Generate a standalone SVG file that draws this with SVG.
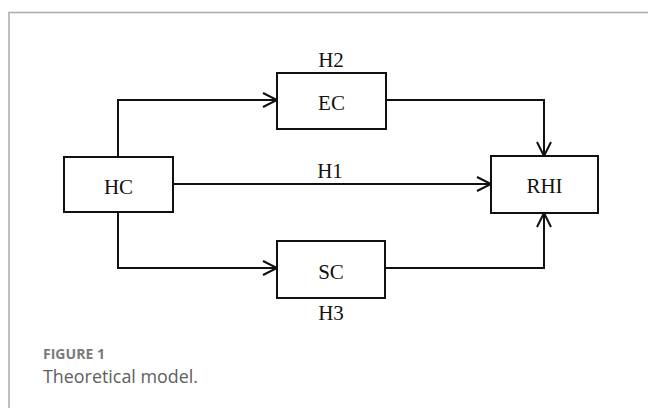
<svg xmlns="http://www.w3.org/2000/svg" width="648" height="408" viewBox="0 0 648 408">
  <defs>
    <marker id="arrow" markerUnits="userSpaceOnUse" markerWidth="20" markerHeight="20" refX="15" refY="8" orient="auto" viewBox="0 0 20 16">
      <path d="M1,1 L15,8 L1,15" fill="none" stroke="#111" stroke-width="2"/>
    </marker>
  </defs>
  <style>
    .box { fill: #fff; stroke: #111; stroke-width: 2; }
    .lbl { font-family: "Liberation Serif", "Times New Roman", serif; font-size: 21px; fill: #111; text-anchor: middle; }
    .conn { fill: none; stroke: #111; stroke-width: 2; marker-end: url(#arrow); }
    .frame { stroke: #aaa; stroke-width: 1.5; fill: none; }
  </style>
  <rect width="648" height="408" fill="#fff"/>
  <path class="frame" d="M9,408 L9,12.5 L648,12.5"/>

  <g id="connectors">
    <path class="conn" d="M118,157 L118,100 L277,100"/>
    <path class="conn" d="M173,184 L491,184"/>
    <path class="conn" d="M118,212 L118,268 L277,268"/>
    <path class="conn" d="M386,100 L544,100 L544,156"/>
    <path class="conn" d="M385,268 L544,268 L544,213"/>
    <text class="lbl" x="331" y="67">H2</text>
    <text class="lbl" x="330" y="178">H1</text>
    <text class="lbl" x="331" y="320">H3</text>
  </g>

  <g id="HC">
    <rect class="box" x="64" y="157" width="109" height="55"/>
    <text class="lbl" x="118.5" y="194">HC</text>
  </g>
  <g id="EC">
    <rect class="box" x="277" y="73" width="109" height="56"/>
    <text class="lbl" x="331.5" y="110">EC</text>
  </g>
  <g id="SC">
    <rect class="box" x="277" y="241" width="108" height="57"/>
    <text class="lbl" x="331" y="279">SC</text>
  </g>
  <g id="RHI">
    <rect class="box" x="491" y="156" width="107" height="57"/>
    <text class="lbl" x="544.5" y="193">RHI</text>
  </g>

  <g id="caption">
    <text x="43" y="359" font-family="'Open Sans', 'Noto Sans', sans-serif" font-size="14" font-weight="bold" fill="#7a7a7a" textLength="62" lengthAdjust="spacingAndGlyphs">FIGURE 1</text>
    <text x="43" y="383" font-family="'Open Sans', 'Noto Sans', sans-serif" font-size="18" fill="#5e5e5e" textLength="155" lengthAdjust="spacingAndGlyphs">Theoretical model.</text>
  </g>
</svg>
